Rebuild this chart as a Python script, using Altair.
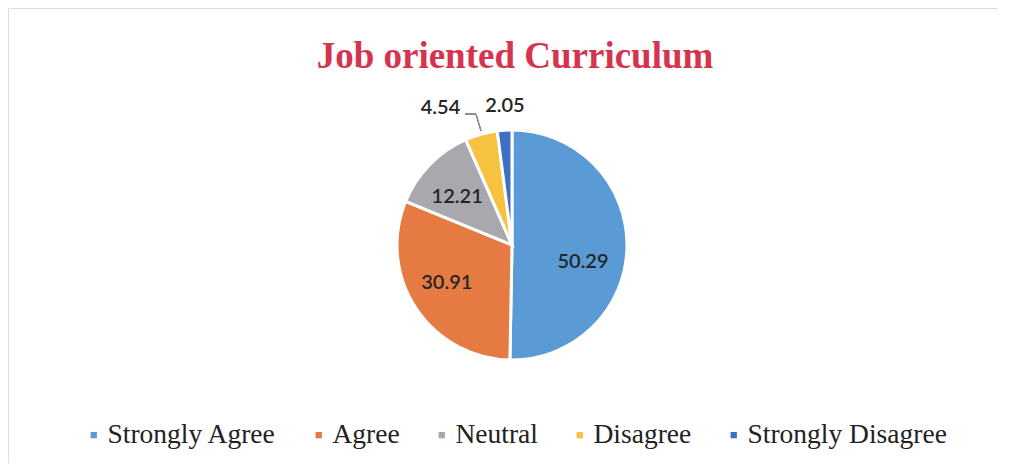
import altair as alt
import pandas as pd

categories = ["Strongly Agree", "Agree", "Neutral", "Disagree", "Strongly Disagree"]
values = [50.29, 30.91, 12.21, 4.54, 2.05]
labels = ["50.29", "30.91", "12.21", "4.54", "2.05"]
colors = ["#5b9bd5", "#e57a43", "#a8a8ae", "#f7c23f", "#3f6fc4"]

df = pd.DataFrame({"cat": categories, "val": values, "lab": labels, "ord": list(range(len(values)))})

W, H = 990, 455
CX, CY = 504, 237
R = 115
TSCALE = alt.Scale(domain=[0, 100])

color = alt.Color("cat:N", scale=alt.Scale(domain=categories, range=colors),
                  sort=categories,
                  legend=alt.Legend(title=None, orient="none", legendX=72, legendY=413,
                                    direction="horizontal", symbolType="square",
                                    symbolSize=40, symbolStrokeWidth=0,
                                    labelFont="Liberation Serif", labelFontSize=27.5,
                                    labelColor="#222222", labelOffset=0,
                                    columnPadding=28, labelLimit=400))

pie = alt.Chart(df).mark_arc(outerRadius=R, stroke="white", strokeWidth=3).encode(
    theta=alt.Theta("val:Q", stack=True, scale=TSCALE),
    order=alt.Order("ord:Q"),
    color=color, x=alt.value(CX), y=alt.value(CY))

lbase = alt.Chart(df).transform_window(
    cum="sum(val)", sort=[alt.SortField("ord")], frame=[None, 0]
).transform_calculate(mid="datum.cum - datum.val / 2")


def label(i, radius, dx, dy):
    return lbase.transform_filter(f"datum.ord == {i}").mark_text(
        radius=radius, dx=dx, dy=dy, font="Lato", fontSize=20, fontWeight=600,
        color="#262626").encode(
        theta=alt.Theta("mid:Q", scale=TSCALE, stack=False),
        text="lab:N", x=alt.value(CX), y=alt.value(CY))


labs = [label(0, 78, -7, 16), label(1, 78, 0, -5), label(2, 78, 1, 6),
        label(3, 140, -34, -2), label(4, 141, 2, 2)]

lead1 = alt.Chart(df).mark_rule(color="#8a8a8a", strokeWidth=1).encode(
    x=alt.value(457), x2=alt.value(468), y=alt.value(106), y2=alt.value(106))
lead2 = alt.Chart(df).mark_rule(color="#8a8a8a", strokeWidth=1).encode(
    x=alt.value(468), x2=alt.value(473), y=alt.value(106), y2=alt.value(123))

title = alt.Chart(pd.DataFrame({"t": ["Job oriented Curriculum"]})).mark_text(
    font="Liberation Serif", fontSize=37, fontWeight="bold", color="#d6334f",
    baseline="alphabetic", align="center").encode(
    text="t:N", x=alt.value(507), y=alt.value(60))

chart = alt.layer(pie, *labs, lead1, lead2, title).properties(
    width=W, height=H,
    autosize=alt.AutoSizeParams(type="none"),
    padding=0,
).configure_view(stroke="#dcdcee", strokeWidth=1).configure(background="white")

chart.save("out.html", embed_options={"renderer": "svg", "actions": False})
